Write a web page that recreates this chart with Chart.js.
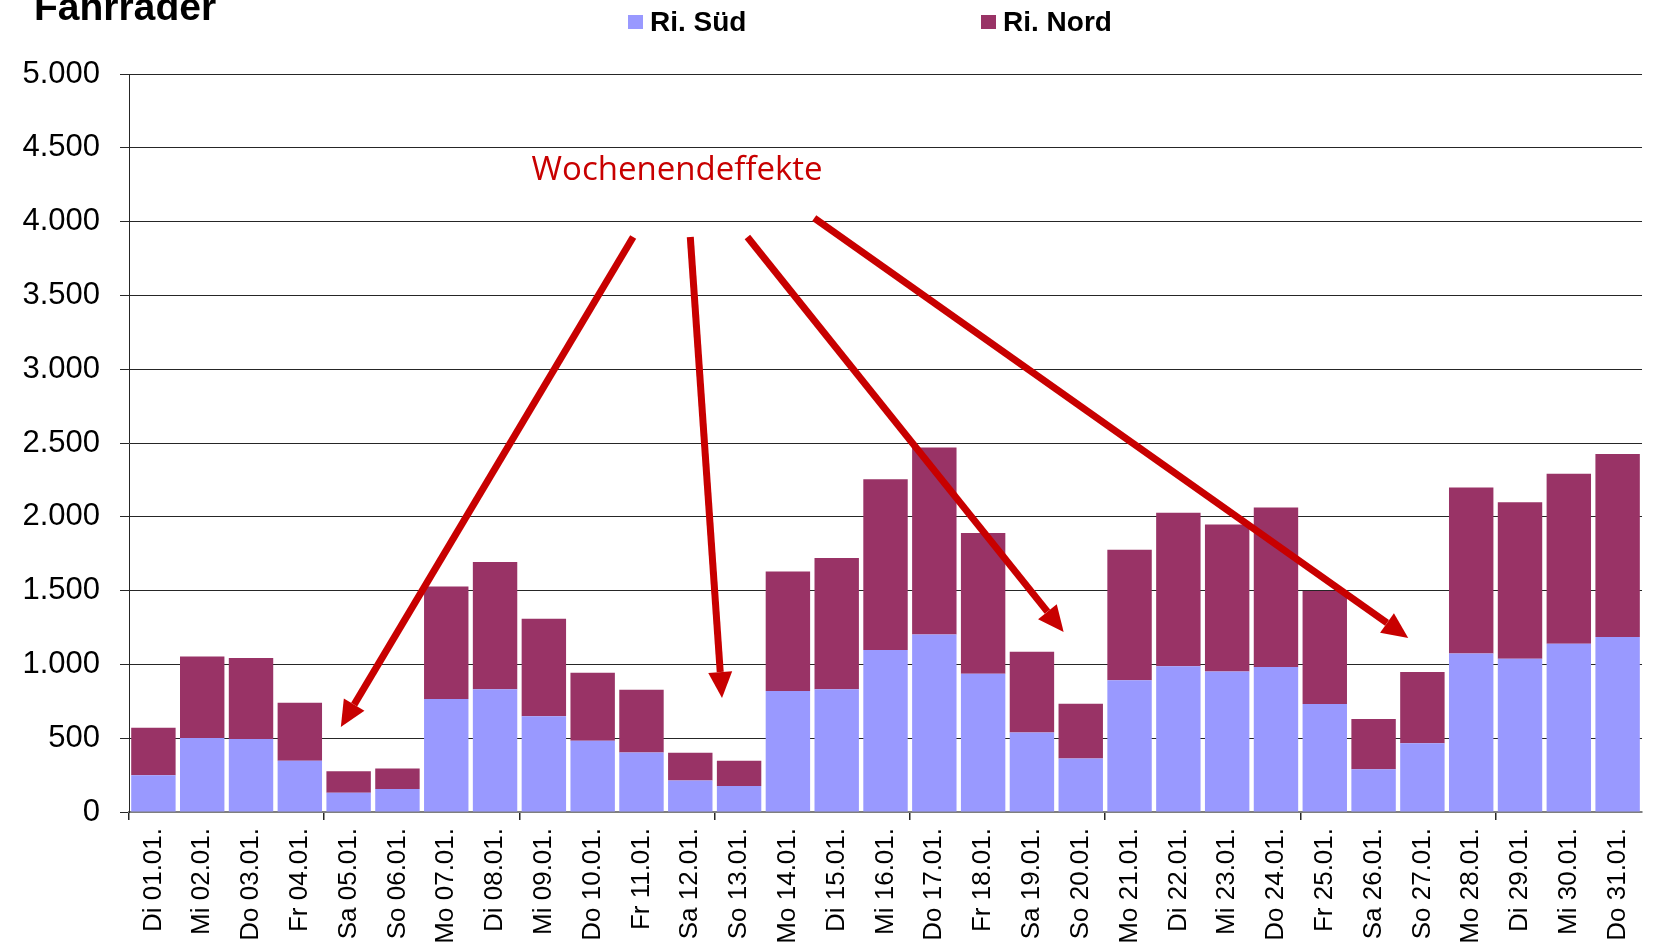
<!DOCTYPE html>
<html>
<head>
<meta charset="utf-8">
<script src="https://cdn.jsdelivr.net/npm/chart.js@4"></script>
<style>
  html, body { margin: 0; padding: 0; background: #fff; }
  #wrap { position: relative; width: 1657px; height: 948px; }
</style>
</head>
<body>
<div id="wrap"><canvas id="bikeChart"></canvas></div>
<script>
// ---- data ----
const dayLabels = [
  'Di 01.01.', 'Mi 02.01.', 'Do 03.01.', 'Fr 04.01.', 'Sa 05.01.', 'So 06.01.', 'Mo 07.01.',
  'Di 08.01.', 'Mi 09.01.', 'Do 10.01.', 'Fr 11.01.', 'Sa 12.01.', 'So 13.01.', 'Mo 14.01.',
  'Di 15.01.', 'Mi 16.01.', 'Do 17.01.', 'Fr 18.01.', 'Sa 19.01.', 'So 20.01.', 'Mo 21.01.',
  'Di 22.01.', 'Mi 23.01.', 'Do 24.01.', 'Fr 25.01.', 'Sa 26.01.', 'So 27.01.', 'Mo 28.01.',
  'Di 29.01.', 'Mi 30.01.', 'Do 31.01.'
];

const richtungSued = [249, 502, 495, 348, 131, 156, 765, 832, 649, 482, 403, 213, 176, 819, 832,
  1097, 1203, 936, 538, 362, 893, 988, 952, 982, 731, 290, 466, 1074, 1038, 1140, 1185];

const richtungNord = [321, 552, 548, 392, 145, 138, 762, 862, 660, 462, 426, 189, 171, 810, 889,
  1158, 1267, 954, 548, 371, 884, 1040, 995, 1081, 766, 340, 483, 1125, 1061, 1152, 1241];

const seriesNames = ['Ri. Süd', 'Ri. Nord'];
const yTicks = [0, 500, 1000, 1500, 2000, 2500, 3000, 3500, 4000, 4500, 5000];

// annotation: arrows in (category index, value) space
const weekendNote = { text: 'Wochenendeffekte', x: 10.73, y: 4282 };
const weekendArrows = [
  { from: [9.83, 3896], to: [3.84, 576] },
  { from: [11.0, 3896], to: [11.65, 772] },
  { from: [12.17, 3896], to: [18.65, 1220] },
  { from: [13.54, 4024], to: [25.71, 1179] }
];

const colors = {
  sued: '#9999FF',
  nord: '#993366',
  red: '#C80000',
  grid: '#262626',
  axis: '#7f7f7f'
};

Chart.defaults.font.family = "'Liberation Sans', Arial, sans-serif";
Chart.defaults.color = '#000';

function germanNumber(v) {
  return String(v).replace(/\B(?=(\d{3})+(?!\d))/g, '.');
}

// title, legend and arrows drawn on top
const decorations = {
  id: 'decorations',
  afterDatasetsDraw(chart) {
    const ctx = chart.ctx;
    const xs = chart.scales.x, ys = chart.scales.y;
    ctx.save();
    ctx.strokeStyle = colors.red;
    ctx.fillStyle = colors.red;
    ctx.lineWidth = 7;
    ctx.lineCap = 'butt';
    weekendArrows.forEach(a => {
      const x1 = xs.getPixelForValue(a.from[0]), y1 = ys.getPixelForValue(a.from[1]);
      const x2 = xs.getPixelForValue(a.to[0]), y2 = ys.getPixelForValue(a.to[1]);
      const ang = Math.atan2(y2 - y1, x2 - x1);
      const headLen = 26, headHalf = 12;
      const bx = x2 - headLen * Math.cos(ang), by = y2 - headLen * Math.sin(ang);
      ctx.beginPath();
      ctx.moveTo(x1, y1);
      ctx.lineTo(bx, by);
      ctx.stroke();
      ctx.beginPath();
      ctx.moveTo(x2, y2);
      ctx.lineTo(bx + headHalf * Math.sin(ang), by - headHalf * Math.cos(ang));
      ctx.lineTo(bx - headHalf * Math.sin(ang), by + headHalf * Math.cos(ang));
      ctx.closePath();
      ctx.fill();
    });
    ctx.font = "33px 'Open Sans', 'Noto Sans', sans-serif";
    ctx.textAlign = 'center';
    ctx.textBaseline = 'alphabetic';
    ctx.fillText(weekendNote.text, xs.getPixelForValue(weekendNote.x), ys.getPixelForValue(weekendNote.y));
    ctx.restore();
  },
  afterDraw(chart) {
    const ctx = chart.ctx;
    ctx.save();
    ctx.fillStyle = '#000';
    ctx.font = "bold 39px 'Liberation Sans', Arial, sans-serif";
    ctx.textAlign = 'left';
    ctx.textBaseline = 'alphabetic';
    ctx.fillText('Fahrräder', 34, 20);

    // legend
    const legendX = [628, 981];
    ctx.font = "bold 28px 'Liberation Sans', Arial, sans-serif";
    chart.data.datasets.forEach((ds, i) => {
      ctx.fillStyle = ds.backgroundColor;
      ctx.fillRect(legendX[i], 15, 15, 14);
      ctx.fillStyle = '#000';
      ctx.fillText(ds.label, legendX[i] + 22, 31);
    });
    ctx.restore();
  }
};

new Chart(document.getElementById('bikeChart'), {
  type: 'bar',
  data: {
    labels: dayLabels,
    datasets: [
      { label: seriesNames[0], data: richtungSued, backgroundColor: colors.sued,
        barPercentage: 0.91, categoryPercentage: 1.0 },
      { label: seriesNames[1], data: richtungNord, backgroundColor: colors.nord,
        barPercentage: 0.91, categoryPercentage: 1.0 }
    ]
  },
  options: {
    responsive: true,
    maintainAspectRatio: false,
    animation: false,
    layout: { padding: { top: 74, right: 11, left: 0, bottom: 0 } },
    plugins: {
      legend: { display: false },
      tooltip: { enabled: false }
    },
    scales: {
      x: {
        stacked: true,
        afterFit: s => { s.height = 136; },
        grid: {
          offset: true,
          drawOnChartArea: false,
          tickLength: 8,
          lineWidth: 1.5,
          color: c => (c.index !== undefined && c.index % 4 === 0) ? colors.grid : 'rgba(0,0,0,0)'
        },
        border: { color: colors.axis, width: 2 },
        ticks: {
          autoSkip: false,
          maxRotation: 90,
          minRotation: 90,
          padding: 8,
          font: { size: 26 }
        }
      },
      y: {
        stacked: true,
        min: 0,
        max: 5000,
        afterFit: s => { s.width = 129; },
        afterBuildTicks: s => { s.ticks = yTicks.map(v => ({ value: v })); },
        grid: { color: colors.grid, tickLength: 9, lineWidth: 1 },
        border: { color: colors.grid, width: 1 },
        ticks: {
          padding: 20,
          font: { size: 31 },
          callback: v => germanNumber(v)
        }
      }
    }
  },
  plugins: [decorations]
});
</script>
</body>
</html>
